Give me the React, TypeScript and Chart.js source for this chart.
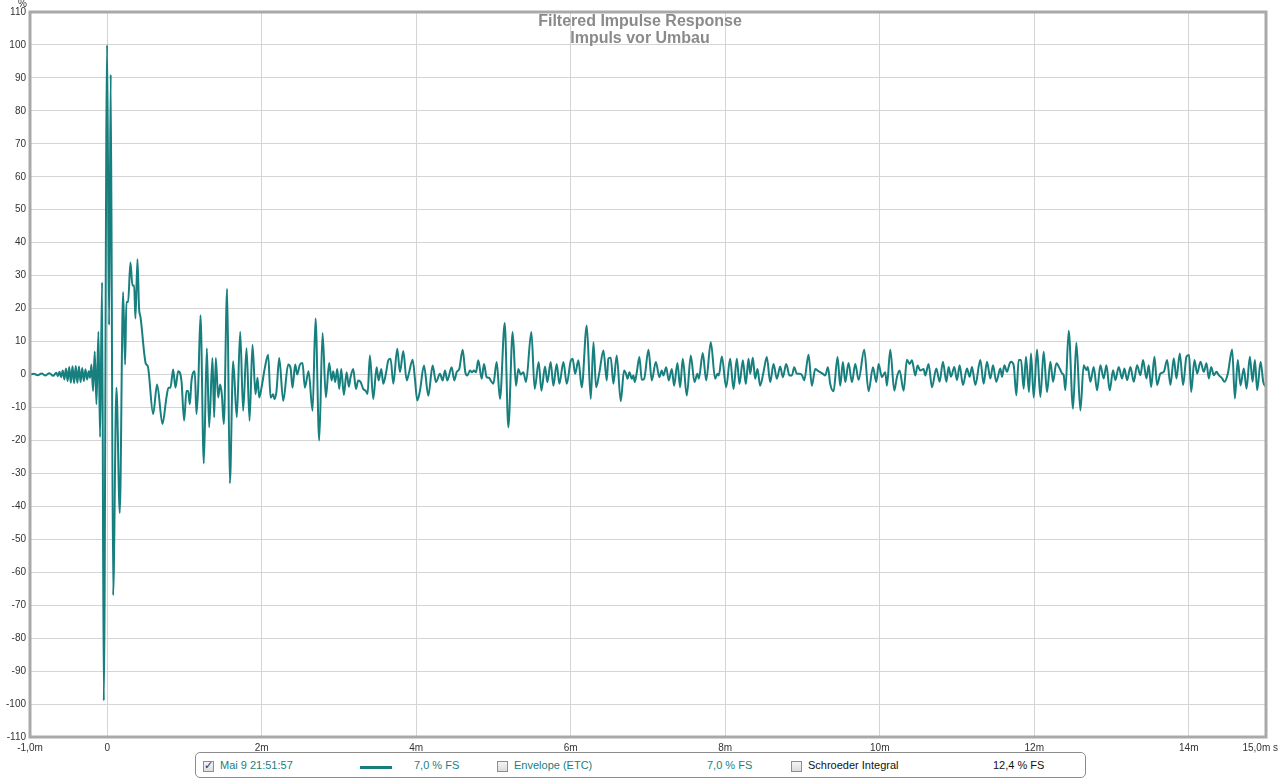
import React, { useEffect, useRef } from "react";
import { Chart, registerables } from "chart.js";

Chart.register(...registerables);

// ---- axis definitions ----
const xTickValues = [-1, 0, 2, 4, 6, 8, 10, 12, 14, 15];
const xTickLabels = ["-1,0m", "0", "2m", "4m", "6m", "8m", "10m", "12m", "14m", "15,0m s"];
const xMin = -1;
const xMax = 15;
const yMin = -110;
const yMax = 110;
const yStep = 10;

// ---- titles / legend text ----
const titleLines = ["Filtered Impulse Response", "Impuls vor Umbau"];
const yUnit = "%";
const legendSeriesName = "Mai 9 21:51:57";
const legendEntries = [
  { label: "Envelope (ETC)", value: "7,0 % FS", teal: true },
  { label: "Schroeder Integral", value: "12,4 % FS", teal: false },
];
const seriesScale = "7,0 % FS";

// ---- impulse response data (time in ms, amplitude in %) ----
const preTimes = [-1.0, -0.95, -0.9, -0.85, -0.8, -0.75, -0.7, -0.66, -0.639, -0.618, -0.597, -0.576, -0.555, -0.534, -0.513, -0.492, -0.471, -0.45, -0.429, -0.408, -0.387, -0.366, -0.345, -0.324, -0.303, -0.282, -0.261, -0.24, -0.222];
const preValues = [0, 0.2, -0.2, 0.3, -0.3, 0.4, -0.4, 0.5, -0.5, 0.8, -0.8, 1.2, -1.5, 1.8, -2, 2.3, -2.5, 2.5, -2.6, 2.6, -2.5, 2.4, -2.3, 2, -2, 1.6, -1.5, 1, -1];

const mainTimes = [-0.205, -0.184, -0.162, -0.14, -0.114, -0.093, -0.067, -0.045, -0.002, 0.024, 0.045, 0.076, 0.119, 0.162, 0.205, 0.231, 0.248, 0.27, 0.3, 0.326, 0.348, 0.365, 0.391, 0.412, 0.43, 0.499, 0.525, 0.594, 0.645, 0.715, 0.766, 0.792, 0.818, 0.853, 0.883, 0.918, 0.961, 0.995, 1.025, 1.047, 1.069, 1.09, 1.133, 1.155, 1.177, 1.207, 1.25, 1.289, 1.319, 1.362, 1.384, 1.405, 1.436, 1.461, 1.483, 1.509, 1.552, 1.587, 1.63, 1.677, 1.721, 1.759, 1.803, 1.842, 1.88, 1.919, 1.945, 1.967, 1.997, 2.04, 2.083, 2.114, 2.148, 2.165, 2.191, 2.226, 2.278, 2.342, 2.373, 2.398, 2.433, 2.459, 2.494, 2.528, 2.558, 2.606, 2.658, 2.696, 2.744];
const mainValues = [3, -5, 7, -9, 13, -19, 28, -99, 100, 15, 91, -67, -4, -42, 25, 3, 22, 22, 34, 27, 27, 17, 35, 20, 17.5, 3.3, 2.5, -12, -3, -15, -7, -4, -4, 1.5, -4, 1, -2, -14, -5, -5, -9, -2, 1, -12, -4, 18, -27, 8, -16, 5, -13, 5, -7, -3, -6, -15, 26, -33, 4, -13, 13, -11, 8, -14, 9, -6, -1, -7, -4, 2, 6, -7, -6, -7.5, -5, 5, -8, 3, 2, -4, 3, 0, 3, 3.5, -4, 1, -11, 17, -20];

const midTimes = [2.787, 2.83, 2.873, 2.904, 2.925, 2.951, 2.977, 3.003, 3.029, 3.063, 3.098, 3.128, 3.15, 3.184, 3.219, 3.249, 3.28, 3.314, 3.344, 3.37, 3.4, 3.443, 3.487, 3.513, 3.547, 3.573, 3.608, 3.638, 3.668, 3.703, 3.754, 3.789, 3.832, 3.876, 3.905, 3.953, 3.983, 4.013, 4.048, 4.1, 4.156, 4.212, 4.255, 4.307, 4.342, 4.372, 4.402, 4.458, 4.493, 4.523, 4.557, 4.601, 4.635, 4.661, 4.696, 4.722, 4.747, 4.773, 4.803, 4.847, 4.877, 4.911, 4.942, 4.963, 4.998, 5.041, 5.084, 5.145, 5.192, 5.248, 5.291, 5.322, 5.352, 5.386, 5.421, 5.49, 5.533, 5.585, 5.62, 5.667, 5.697, 5.74, 5.775, 5.818, 5.853, 5.905, 5.948, 5.999, 6.025, 6.056, 6.099, 6.142, 6.207, 6.259, 6.294, 6.328, 6.371, 6.423, 6.466, 6.487, 6.518, 6.552, 6.595];
const midValues = [12.6, -6.9, 3.5, -1.8, 1, -2.3, 1.7, -4.4, 1.7, -6.2, 0.7, -3.7, -0.8, 1.7, -4.4, -1.8, -2.3, -4.4, -4.9, -5.9, 5.8, -7.4, 2.2, -1.8, 1.7, -2.8, 0.4, 4.3, 4.8, -2.8, 7.8, 0.7, 7.1, -1.8, 0.4, 4.5, -1.3, -7.9, -4.9, 2.7, -6.4, 2.7, -2.3, 0.2, -1.8, 1.2, -1.8, 2.2, -1.8, 0.7, 1.7, 7.5, 0.7, -0.3, 1.2, 0.7, 1.2, 0.7, 4.3, -1.3, 3.2, -0.8, -1, -1.8, -2.8, 3.8, -7.4, 15.6, -16, 12.9, -3.4, 1.7, 0, 0.7, -2.3, 12.9, -4.4, 3.8, -4.9, 2.4, -2.3, 3.8, -3.4, 3.2, -2.8, 3.8, -2.8, 4.1, 4.8, 0.2, 4.3, -3.9, 14.9, -7.4, 9.8, -3.9, 0.7, 7.3, -1.8, 4.8, 5.1, -2.8, 5.8];

const lateTimes = [6.647, 6.69, 6.716, 6.734, 6.76, 6.79, 6.811, 6.829, 6.855, 6.889, 6.919, 6.95, 7.006, 7.049, 7.101, 7.148, 7.178, 7.2, 7.235, 7.269, 7.308, 7.338, 7.381, 7.416, 7.45, 7.502, 7.554, 7.601, 7.64, 7.658, 7.709, 7.753, 7.813, 7.869, 7.899, 7.917, 7.956, 8.012, 8.063, 8.107, 8.15, 8.184, 8.228, 8.266, 8.301, 8.323, 8.357, 8.387, 8.417, 8.452, 8.495, 8.538, 8.582, 8.625, 8.668, 8.711, 8.746, 8.789, 8.832, 8.862, 8.893, 8.927, 8.962, 8.996, 9.022, 9.078, 9.121, 9.165, 9.195, 9.229, 9.264, 9.294, 9.329, 9.359, 9.402, 9.454, 9.488, 9.523, 9.553, 9.596, 9.64, 9.683, 9.726, 9.799, 9.855, 9.912, 9.955, 9.985, 10.028, 10.071, 10.093, 10.136, 10.188, 10.222, 10.257, 10.309, 10.352, 10.387, 10.417, 10.46, 10.49, 10.525, 10.568, 10.589, 10.632, 10.676];
const lateValues = [-8.1, 1.2, 0.2, -1.3, 0.7, -1.3, -0.3, -2.3, 0.7, 5.3, -1.6, -1.3, 7.5, -1.8, 3.8, -0.8, 1.2, -0.3, 2.2, -1.8, 1.7, -3.4, 3.5, -3.9, 4.8, -6.4, 5.8, -2.3, 0.2, -1.3, 6.5, -1.8, 9.8, -1.3, 0.2, -0.3, 5.5, -3.9, 4.8, -4.4, 4.8, -2.9, 4.3, -2.9, 4.8, 0.2, 5.1, -1.3, 1.7, -3.4, 0.7, 5.3, -2.3, 3.2, -1.3, 2.4, -0.8, 3.2, -0.3, -0.3, 2.2, 0.2, 0.2, -0.3, -1.8, 6, -3.4, 1.7, 1.2, 0.7, 0.2, -0.3, 2.2, -2.9, -5.1, 5.3, -3.4, 3.8, -2.3, 3.5, -2.3, 3.2, -1.6, 7.5, -5.1, 2.2, -2.3, 3.2, -0.8, 0.7, -3.4, 7.5, -4.9, -0.8, 1.2, -4.9, 4.5, 3.2, 4.3, -0.3, 2.7, 1.2, 1.7, -0.3, 3.2, -3.9];

const tailTimes = [10.732, 10.775, 10.818, 10.862, 10.892, 10.922, 10.965, 11.0, 11.034, 11.077, 11.129, 11.164, 11.194, 11.237, 11.302, 11.345, 11.388, 11.432, 11.466, 11.509, 11.561, 11.583, 11.613, 11.647, 11.682, 11.699, 11.734, 11.768, 11.798, 11.829, 11.863, 11.893, 11.932, 11.958, 11.993, 12.036, 12.079, 12.122, 12.165, 12.209, 12.243, 12.286, 12.33, 12.36, 12.381, 12.403, 12.446, 12.502, 12.545, 12.597, 12.64, 12.675, 12.692, 12.727, 12.77, 12.813, 12.856, 12.899, 12.934, 12.977, 13.02, 13.05, 13.094, 13.137, 13.167, 13.202, 13.245, 13.288, 13.331, 13.374, 13.409, 13.452, 13.482, 13.513, 13.556, 13.59, 13.633, 13.677, 13.72, 13.763, 13.806, 13.841, 13.884, 13.927, 13.97, 14.005, 14.031, 14.074, 14.109, 14.152, 14.195, 14.229, 14.26, 14.29, 14.324, 14.359, 14.389, 14.432, 14.463, 14.506, 14.562, 14.597, 14.635, 14.67, 14.713, 14.748, 14.791, 14.826, 14.856, 14.886, 14.93, 14.964, 15.0];
const tailValues = [1.8, -2.2, 3.9, -2.2, 2.3, -0.7, 2.3, -1.7, 2.8, -3.2, 1.8, -0.7, 2.3, -3.2, 4.4, -2.8, 3.9, -1.2, 2.8, -2.2, 1.8, -0.7, 2.8, 0.8, 3.4, 3.9, 2.8, -6.3, 4.4, 4.4, -4.3, 5.4, -5.3, 6.4, -7, 7.6, -6.8, 6.9, -5.3, 3.9, -2.2, 3.4, 1.8, 0.3, -0.2, -4.8, 13.3, -10.4, 9.6, -10.9, 2.8, 1.3, 2.3, -2.2, 2.3, -4.8, 2.8, -1.2, 2.8, -4.8, 1.3, -1.7, 2.3, -1.2, 1.8, -1.7, 2.3, -2.2, 2.8, -0.2, 4.4, -1.2, 2.8, -3.8, 5.4, -3.2, 0.3, 0.8, 4.4, -3.2, 4.9, -1.2, 6.4, -3.2, 5.4, 5.9, -5.3, 4.4, 0.3, 3.9, 0.8, 3.4, -1.2, 2.3, -0.2, 0.8, -0.2, -1.2, -2.2, 0.3, 7.6, -7.3, 4.4, -3.3, 1.8, -4.3, 5.4, -2.2, 4.4, -4.8, 3.9, -2.2, -3.8];

const segments: [number[], number[]][] = [
  [preTimes, preValues],
  [mainTimes, mainValues],
  [midTimes, midValues],
  [lateTimes, lateValues],
  [tailTimes, tailValues],
];

// ---- styling ----
const TEAL = "#187f7f";
const GRID = "#d4d4d4";
const FRAME = "#a9a9a9";
const FONT = '"Liberation Sans", Arial, sans-serif';

const framePlugin = {
  id: "frame",
  afterDatasetsDraw(chart: any) {
    const { ctx, chartArea } = chart;
    ctx.save();
    ctx.strokeStyle = FRAME;
    ctx.lineWidth = 3;
    ctx.strokeRect(chartArea.left, chartArea.top, chartArea.right - chartArea.left, chartArea.bottom - chartArea.top);
    ctx.restore();
  },
};

// keep the last x label inside the canvas (as the original software does)
const lastLabelFitPlugin = {
  id: "lastLabelFit",
  beforeDraw(chart: any) {
    const sc = chart.scales.x;
    if (!sc || !sc.getLabelItems) return;
    const items = sc.getLabelItems(chart.chartArea);
    const last = items[items.length - 1];
    if (!last) return;
    const ctx = chart.ctx;
    ctx.save();
    ctx.font = last.font.string;
    const w = ctx.measureText(String(last.label)).width;
    ctx.restore();
    const limit = chart.width - 2;
    const tx = last.options.translation[0];
    if (tx + w / 2 > limit) {
      last.options.translation = [limit, last.options.translation[1]];
      last.options.textAlign = "right";
    }
  },
};

function Checkbox({ checked }: { checked: boolean }) {
  return (
    <span
      style={{
        display: "inline-block",
        width: 11,
        height: 11,
        border: "1px solid #8e8e8e",
        background: "linear-gradient(#f4f4f4, #dcdcdc)",
        boxSizing: "border-box",
        position: "relative",
        verticalAlign: "middle",
      }}
    >
      {checked ? (
        <span
          style={{
            position: "absolute",
            left: 0,
            top: -3,
            fontSize: 11,
            lineHeight: "13px",
            color: "#26306a",
            fontFamily: '"DejaVu Sans", sans-serif',
            fontWeight: "bold",
          }}
        >
          ✓
        </span>
      ) : null}
    </span>
  );
}

export default function App() {
  const canvasRef = useRef<HTMLCanvasElement | null>(null);

  useEffect(() => {
    document.body.style.margin = "0";
    document.body.style.overflow = "hidden";
    const canvas = canvasRef.current;
    if (!canvas) return;
    const points = segments.flatMap(([ts, vs]) => ts.map((t, i) => ({ x: t, y: vs[i] })));
    const chart = new Chart(canvas, {
      type: "line",
      data: {
        datasets: [
          {
            label: legendSeriesName,
            data: points,
            borderColor: TEAL,
            borderWidth: 2,
            pointRadius: 0,
            fill: false,
            cubicInterpolationMode: "monotone",
          } as any,
        ],
      },
      options: {
        responsive: false,
        animation: false,
        devicePixelRatio: 1,
        events: [],
        layout: { padding: { left: 0, right: 14, top: 12, bottom: 0 } },
        plugins: {
          legend: { display: false },
          tooltip: { enabled: false },
          title: { display: false },
        },
        scales: {
          x: {
            type: "linear",
            min: xMin,
            max: xMax,
            afterBuildTicks: (scale: any) => {
              scale.ticks = xTickValues.map((v) => ({ value: v }));
            },
            afterFit: (scale: any) => {
              scale.height = 44;
              scale.paddingLeft = 0;
              scale.paddingRight = 0;
            },
            grid: { color: GRID, lineWidth: 1, drawTicks: false },
            border: { display: false },
            ticks: {
              autoSkip: false,
              maxRotation: 0,
              padding: 5,
              color: "#333",
              font: { family: FONT, size: 10 },
              callback: (value: any) => {
                const idx = xTickValues.indexOf(Number(value));
                return idx >= 0 ? xTickLabels[idx] : "";
              },
            },
          },
          y: {
            type: "linear",
            min: yMin,
            max: yMax,
            afterFit: (scale: any) => {
              scale.width = 30;
            },
            grid: { color: GRID, lineWidth: 1, drawTicks: false },
            border: { display: false },
            ticks: {
              stepSize: yStep,
              autoSkip: false,
              padding: 4,
              color: "#333",
              font: { family: FONT, size: 10 },
            },
          },
        },
      },
      plugins: [framePlugin, lastLabelFitPlugin],
    });
    return () => chart.destroy();
  }, []);

  const legendText = { position: "absolute" as const, top: 5, fontSize: 11, lineHeight: "14px", whiteSpace: "nowrap" as const };

  return (
    <div style={{ position: "relative", width: 1280, height: 781, background: "#fff", overflow: "hidden", fontFamily: FONT }}>
      <canvas ref={canvasRef} width={1280} height={781} style={{ display: "block", width: 1280, height: 781 }} />
      <div
        style={{
          position: "absolute",
          top: 12,
          left: 0,
          width: 1280,
          textAlign: "center",
          color: "#8a8a8a",
          fontWeight: "bold",
          fontSize: 16,
          lineHeight: "17px",
        }}
      >
        {titleLines.map((l) => (
          <div key={l}>{l}</div>
        ))}
      </div>
      <div style={{ position: "absolute", left: 18, top: -1, fontSize: 10, lineHeight: "10px", color: "#333" }}>{yUnit}</div>
      <div
        style={{
          position: "absolute",
          left: 195,
          top: 752,
          width: 891,
          height: 26,
          border: "1px solid #8c8c8c",
          borderRadius: 5,
          boxSizing: "border-box",
          background: "#fff",
        }}
      >
        <div style={{ position: "absolute", left: 7, top: 8, lineHeight: 0 }}>
          <Checkbox checked={true} />
        </div>
        <div style={{ ...legendText, left: 24, color: TEAL }}>{legendSeriesName}</div>
        <div style={{ position: "absolute", left: 164, top: 13, width: 32, height: 3, background: TEAL }} />
        <div style={{ ...legendText, left: 218, color: TEAL }}>{seriesScale}</div>
        <div style={{ position: "absolute", left: 301, top: 8, lineHeight: 0 }}>
          <Checkbox checked={false} />
        </div>
        <div style={{ ...legendText, left: 318, color: TEAL }}>{legendEntries[0].label}</div>
        <div style={{ ...legendText, left: 511, color: TEAL }}>{legendEntries[0].value}</div>
        <div style={{ position: "absolute", left: 595, top: 8, lineHeight: 0 }}>
          <Checkbox checked={false} />
        </div>
        <div style={{ ...legendText, left: 612, color: "#111" }}>{legendEntries[1].label}</div>
        <div style={{ ...legendText, left: 797, color: "#111" }}>{legendEntries[1].value}</div>
      </div>
    </div>
  );
}
